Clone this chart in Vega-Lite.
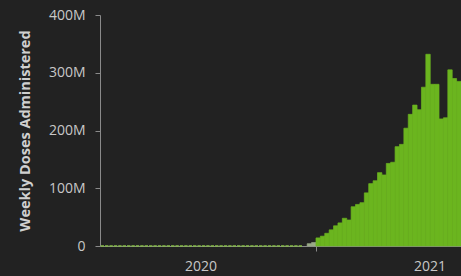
{
  "$schema": "https://vega.github.io/schema/vega-lite/v6.json",
  "autosize": {"type": "none"},
  "width": 361,
  "height": 231,
  "padding": {"left": 100, "top": 15, "right": 0, "bottom": 30},
  "background": "#222222",
  "config": {
    "view": {"stroke": null},
    "font": "Open Sans",
    "axis": {"labelFont": "Open Sans", "titleFont": "Open Sans", "labelColor": "#c8c8c8", "titleColor": "#d0d0d0", "domainColor": "#8a8a8a", "tickColor": "#8a8a8a", "grid": false}
  },
  "data": {
    "values": [
      {"start": "2020-01-24", "end": "2020-01-31", "doses": 0, "status": "none"},
      {"start": "2020-01-31", "end": "2020-02-07", "doses": 0, "status": "none"},
      {"start": "2020-02-07", "end": "2020-02-14", "doses": 0, "status": "none"},
      {"start": "2020-02-14", "end": "2020-02-21", "doses": 0, "status": "none"},
      {"start": "2020-02-21", "end": "2020-02-28", "doses": 0, "status": "none"},
      {"start": "2020-02-28", "end": "2020-03-06", "doses": 0, "status": "none"},
      {"start": "2020-03-06", "end": "2020-03-13", "doses": 0, "status": "none"},
      {"start": "2020-03-13", "end": "2020-03-20", "doses": 0, "status": "none"},
      {"start": "2020-03-20", "end": "2020-03-27", "doses": 0, "status": "none"},
      {"start": "2020-03-27", "end": "2020-04-03", "doses": 0, "status": "none"},
      {"start": "2020-04-03", "end": "2020-04-10", "doses": 0, "status": "none"},
      {"start": "2020-04-10", "end": "2020-04-17", "doses": 0, "status": "none"},
      {"start": "2020-04-17", "end": "2020-04-24", "doses": 0, "status": "none"},
      {"start": "2020-04-24", "end": "2020-05-01", "doses": 0, "status": "none"},
      {"start": "2020-05-01", "end": "2020-05-08", "doses": 0, "status": "none"},
      {"start": "2020-05-08", "end": "2020-05-15", "doses": 0, "status": "none"},
      {"start": "2020-05-15", "end": "2020-05-22", "doses": 0, "status": "none"},
      {"start": "2020-05-22", "end": "2020-05-29", "doses": 0, "status": "none"},
      {"start": "2020-05-29", "end": "2020-06-05", "doses": 0, "status": "none"},
      {"start": "2020-06-05", "end": "2020-06-12", "doses": 0, "status": "none"},
      {"start": "2020-06-12", "end": "2020-06-19", "doses": 0, "status": "none"},
      {"start": "2020-06-19", "end": "2020-06-26", "doses": 0, "status": "none"},
      {"start": "2020-06-26", "end": "2020-07-03", "doses": 0, "status": "none"},
      {"start": "2020-07-03", "end": "2020-07-10", "doses": 0, "status": "none"},
      {"start": "2020-07-10", "end": "2020-07-17", "doses": 0, "status": "none"},
      {"start": "2020-07-17", "end": "2020-07-24", "doses": 0, "status": "none"},
      {"start": "2020-07-24", "end": "2020-07-31", "doses": 0, "status": "none"},
      {"start": "2020-07-31", "end": "2020-08-07", "doses": 0, "status": "none"},
      {"start": "2020-08-07", "end": "2020-08-14", "doses": 0, "status": "none"},
      {"start": "2020-08-14", "end": "2020-08-21", "doses": 0, "status": "none"},
      {"start": "2020-08-21", "end": "2020-08-28", "doses": 0, "status": "none"},
      {"start": "2020-08-28", "end": "2020-09-04", "doses": 0, "status": "none"},
      {"start": "2020-09-04", "end": "2020-09-11", "doses": 0, "status": "none"},
      {"start": "2020-09-11", "end": "2020-09-18", "doses": 0, "status": "none"},
      {"start": "2020-09-18", "end": "2020-09-25", "doses": 0, "status": "none"},
      {"start": "2020-09-25", "end": "2020-10-02", "doses": 0, "status": "none"},
      {"start": "2020-10-02", "end": "2020-10-09", "doses": 0, "status": "none"},
      {"start": "2020-10-09", "end": "2020-10-16", "doses": 0, "status": "none"},
      {"start": "2020-10-16", "end": "2020-10-23", "doses": 0, "status": "none"},
      {"start": "2020-10-23", "end": "2020-10-30", "doses": 0, "status": "none"},
      {"start": "2020-10-30", "end": "2020-11-06", "doses": 0, "status": "none"},
      {"start": "2020-11-06", "end": "2020-11-13", "doses": 0, "status": "none"},
      {"start": "2020-11-13", "end": "2020-11-20", "doses": 0, "status": "none"},
      {"start": "2020-11-20", "end": "2020-11-27", "doses": 0, "status": "none"},
      {"start": "2020-11-27", "end": "2020-12-04", "doses": 0, "status": "none"},
      {"start": "2020-12-04", "end": "2020-12-11", "doses": 0, "status": "none"},
      {"start": "2020-12-11", "end": "2020-12-18", "doses": 0, "status": "none"},
      {"start": "2020-12-18", "end": "2020-12-25", "doses": 4000000, "status": "partial"},
      {"start": "2020-12-25", "end": "2021-01-01", "doses": 6000000, "status": "partial"},
      {"start": "2021-01-01", "end": "2021-01-08", "doses": 14000000, "status": "reported"},
      {"start": "2021-01-08", "end": "2021-01-15", "doses": 17000000, "status": "reported"},
      {"start": "2021-01-15", "end": "2021-01-22", "doses": 22000000, "status": "reported"},
      {"start": "2021-01-22", "end": "2021-01-29", "doses": 28000000, "status": "reported"},
      {"start": "2021-01-29", "end": "2021-02-05", "doses": 35000000, "status": "reported"},
      {"start": "2021-02-05", "end": "2021-02-12", "doses": 40000000, "status": "reported"},
      {"start": "2021-02-12", "end": "2021-02-19", "doses": 48000000, "status": "reported"},
      {"start": "2021-02-19", "end": "2021-02-26", "doses": 45000000, "status": "reported"},
      {"start": "2021-02-26", "end": "2021-03-05", "doses": 68000000, "status": "reported"},
      {"start": "2021-03-05", "end": "2021-03-12", "doses": 72000000, "status": "reported"},
      {"start": "2021-03-12", "end": "2021-03-19", "doses": 75000000, "status": "reported"},
      {"start": "2021-03-19", "end": "2021-03-26", "doses": 92000000, "status": "reported"},
      {"start": "2021-03-26", "end": "2021-04-02", "doses": 108000000, "status": "reported"},
      {"start": "2021-04-02", "end": "2021-04-09", "doses": 113000000, "status": "reported"},
      {"start": "2021-04-09", "end": "2021-04-16", "doses": 127000000, "status": "reported"},
      {"start": "2021-04-16", "end": "2021-04-23", "doses": 123000000, "status": "reported"},
      {"start": "2021-04-23", "end": "2021-04-30", "doses": 143000000, "status": "reported"},
      {"start": "2021-04-30", "end": "2021-05-07", "doses": 145000000, "status": "reported"},
      {"start": "2021-05-07", "end": "2021-05-14", "doses": 172000000, "status": "reported"},
      {"start": "2021-05-14", "end": "2021-05-21", "doses": 176000000, "status": "reported"},
      {"start": "2021-05-21", "end": "2021-05-28", "doses": 204000000, "status": "reported"},
      {"start": "2021-05-28", "end": "2021-06-04", "doses": 228000000, "status": "reported"},
      {"start": "2021-06-04", "end": "2021-06-11", "doses": 244000000, "status": "reported"},
      {"start": "2021-06-11", "end": "2021-06-18", "doses": 236000000, "status": "reported"},
      {"start": "2021-06-18", "end": "2021-06-25", "doses": 275000000, "status": "reported"},
      {"start": "2021-06-25", "end": "2021-07-02", "doses": 332000000, "status": "reported"},
      {"start": "2021-07-02", "end": "2021-07-09", "doses": 280000000, "status": "reported"},
      {"start": "2021-07-09", "end": "2021-07-16", "doses": 280000000, "status": "reported"},
      {"start": "2021-07-16", "end": "2021-07-23", "doses": 220000000, "status": "reported"},
      {"start": "2021-07-23", "end": "2021-07-30", "doses": 222000000, "status": "reported"},
      {"start": "2021-07-30", "end": "2021-08-06", "doses": 305000000, "status": "reported"},
      {"start": "2021-08-06", "end": "2021-08-13", "doses": 290000000, "status": "reported"},
      {"start": "2021-08-13", "end": "2021-08-20", "doses": 285000000, "status": "reported"}
    ]
  },
  "encoding": {
    "x": {
      "field": "start",
      "type": "temporal",
      "scale": {"domain": [{"year": 2020, "month": 1, "date": 23}, {"year": 2021, "month": 8, "date": 20}]},
      "axis": {
        "title": null,
        "domain": true,
        "values": [{"year": 2020, "month": 7, "date": 1}, {"year": 2021, "month": 1, "date": 1}, {"year": 2021, "month": 7, "date": 1}],
        "labelExpr": "month(datum.value) == 6 ? timeFormat(datum.value, '%Y') : ''",
        "tickOpacity": {"condition": {"test": "month(datum.value) == 0", "value": 1}, "value": 0},
        "tickSize": 5,
        "labelPadding": 8,
        "labelFontSize": 14,
        "labelFlush": false,
        "labelOverlap": false
      }
    },
    "y": {
      "field": "doses",
      "type": "quantitative",
      "scale": {"domain": [0, 400000000]},
      "axis": {
        "title": "Weekly Doses Administered",
        "values": [0, 100000000, 200000000, 300000000, 400000000],
        "labelExpr": "datum.value == 0 ? '0' : format(datum.value, '~s')",
        "tickSize": 5,
        "labelPadding": 10,
        "labelFontSize": 14,
        "titleFontSize": 14.5,
        "titleFontWeight": "bold",
        "titlePadding": 16
      }
    }
  },
  "layer": [
    {
      "transform": [{"filter": "datum.status == 'none'"}],
      "mark": {"type": "line", "color": "#86bd48", "strokeWidth": 1.6, "strokeDash": [3.4, 1]},
      "encoding": {}
    },
    {
      "transform": [{"filter": "datum.status != 'none'"}],
      "mark": {"type": "bar", "strokeWidth": 0.7},
      "encoding": {
        "x2": {"field": "end"},
        "y2": {"datum": 0},
        "color": {
          "field": "status",
          "type": "nominal",
          "scale": {"domain": ["partial", "reported"], "range": ["#9aab88", "#6bb51f"]},
          "legend": null
        },
        "stroke": {
          "field": "status",
          "type": "nominal",
          "scale": {"domain": ["partial", "reported"], "range": ["#9aab88", "#6bb51f"]},
          "legend": null
        }
      }
    }
  ]
}
